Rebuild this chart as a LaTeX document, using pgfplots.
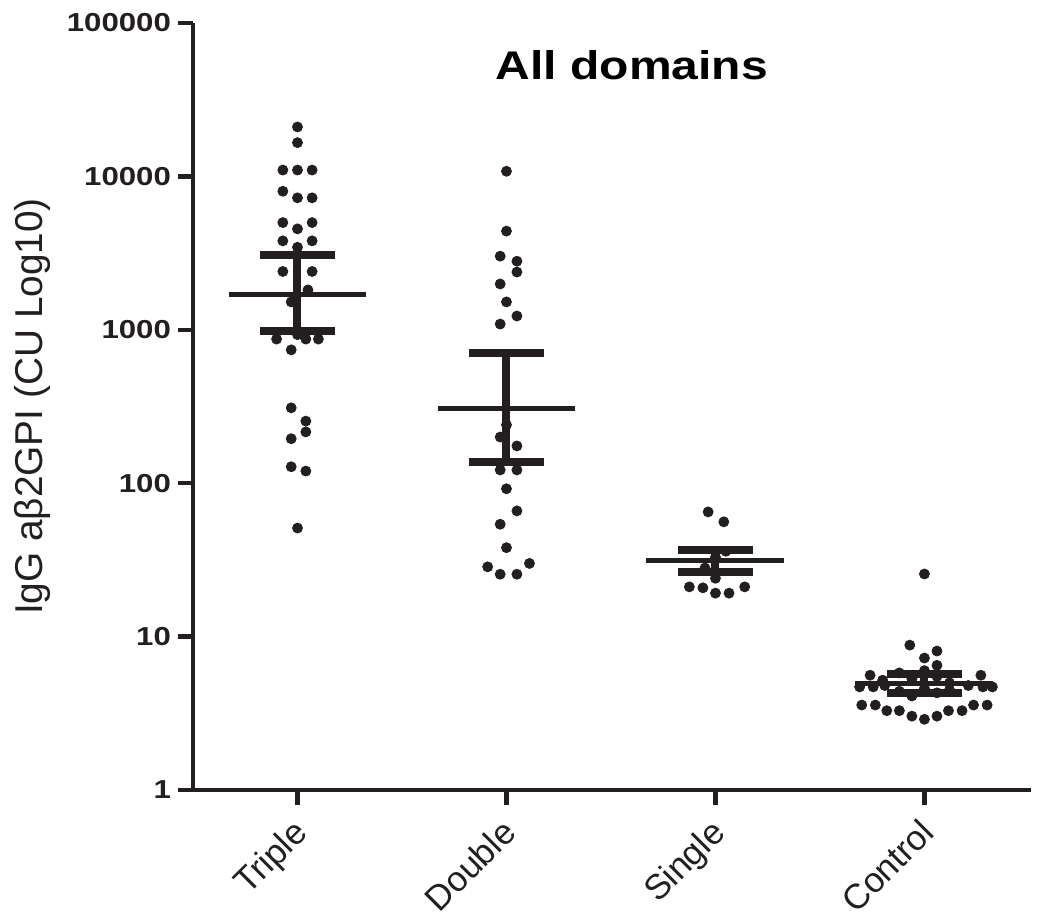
\documentclass[border=0pt]{standalone}
\usepackage{fontspec}
\setmainfont{Liberation Sans}
\newfontfamily\wide{Liberation Sans}[FakeStretch=1.2]
\usepackage{pgfplots}
\pgfplotsset{compat=1.18}
\definecolor{ink}{RGB}{35,31,32}

\begin{document}
\begin{tikzpicture}
\begin{axis}[
    at={(0,0)}, anchor=south west,
    scale only axis, width=419pt, height=383.5pt,
    ymode=log, log basis y=10,
    xmin=-0.5, xmax=3.51, ymin=1, ymax=100000,
    axis lines=left,
    axis line style={-, line width=2.25pt, ink},
    tick style={line width=2.25pt, ink},
    major tick length=7.5pt, minor tick length=0pt,
    tick align=outside,
    xtick={0,1,2,3},
    xticklabels={Triple,Double,Single,Control},
    ytick={1,10,100,1000,10000,100000},
    yticklabels={1,10,100,1000,10000,100000},
    yticklabel style={font=\wide\bfseries\fontsize{13}{13}\selectfont, text=ink},
    xticklabel style={font=\fontsize{17.5}{17.5}\selectfont, text=ink,
        rotate=45, anchor=north east, xshift=-3pt, yshift=1.5pt},
    ylabel={IgG aβ2GPI (CU Log10)},
    ylabel style={font=\fontsize{19.4}{19.4}\selectfont, text=ink,
        at={(axis description cs:-0.192,0.5)}, anchor=center},
    clip=false,
  ]
  % Triple
  \addplot[only marks, mark=*, mark size=2.5pt, ink] coordinates {
    (0,21000) (0,16600) (-0.07,11000) (0,11000) (0.07,11000)
    (-0.07,8000) (0,7250) (0.07,7250)
    (-0.07,5000) (0.07,5000) (0,4550)
    (-0.07,3800) (0.07,3800) (0,3450) (0,3100)
    (-0.07,2400) (0.07,2400) (0.05,1820) (-0.03,1520)
    (-0.10,870) (0.04,870) (0.10,870) (0,930) (-0.03,740)
    (-0.03,310) (0.04,254) (0.04,216) (-0.03,195)
    (-0.03,128) (0.04,120) (0,51)
  };
  % Double
  \addplot[only marks, mark=*, mark size=2.5pt, ink] coordinates {
    (1,10800) (1,4400) (0.97,3020) (1.05,2800) (1.05,2380)
    (0.97,1990) (1,1520) (1.05,1230) (0.97,1090)
    (1,240) (0.97,200) (1.05,175) (0.97,122) (1.05,122)
    (1,92) (1.05,66) (0.97,54) (1,38)
    (1.11,30) (0.91,28.5) (0.97,25.5) (1.05,25.5)
  };
  % Single
  \addplot[only marks, mark=*, mark size=2.5pt, ink] coordinates {
    (1.965,65) (2.04,56) (2,33) (1.95,28) (2.05,36) (2,24)
    (1.875,21.1) (1.94,20.8) (2,19.2) (2.065,19.2) (2.14,21.1)
  };
  % Control
  \addplot[only marks, mark=*, mark size=2.5pt, ink] coordinates {
    (3,25.6) (2.93,8.8) (3.06,8.05) (3,7.25) (3.06,6.5)
    (2.74,5.6) (2.8,5.2) (3.27,5.6)
    (2.69,4.7) (2.755,4.7) (2.81,4.8) (3.21,4.8) (3.28,4.7) (3.325,4.7)
    (2.88,5.8) (2.94,5.3) (3,6.0) (3.06,5.5) (3.12,5.0)
    (2.88,4.4) (2.94,4.1) (3,4.6) (3.06,4.3) (3.12,4.5)
    (2.70,3.58) (2.765,3.58) (3.235,3.58) (3.30,3.58)
    (2.82,3.29) (2.88,3.29) (3.115,3.29) (3.18,3.29)
    (2.94,3.03) (3.06,3.03) (3,2.89)
  };
  % means and 95% CI
  \addplot[ink, line width=4pt] coordinates {(0,982) (0,3073)};
  \addplot[ink, line width=4pt] coordinates {(-0.18,3073) (0.18,3073)};
  \addplot[ink, line width=4pt] coordinates {(-0.18,982) (0.18,982)};
  \addplot[ink, line width=2.5pt] coordinates {(-0.33,1711) (0.33,1711)};

  \addplot[ink, line width=4pt] coordinates {(1,137.5) (1,706)};
  \addplot[ink, line width=4pt] coordinates {(0.82,706) (1.18,706)};
  \addplot[ink, line width=4pt] coordinates {(0.82,137.5) (1.18,137.5)};
  \addplot[ink, line width=2.5pt] coordinates {(0.67,309) (1.33,309)};

  \addplot[ink, line width=4pt] coordinates {(2,26.3) (2,36.5)};
  \addplot[ink, line width=4pt] coordinates {(1.82,36.5) (2.18,36.5)};
  \addplot[ink, line width=4pt] coordinates {(1.82,26.3) (2.18,26.3)};
  \addplot[ink, line width=2.5pt] coordinates {(1.67,31.2) (2.33,31.2)};

  \addplot[ink, line width=4pt] coordinates {(3,4.29) (3,5.7)};
  \addplot[ink, line width=4pt] coordinates {(2.82,5.7) (3.18,5.7)};
  \addplot[ink, line width=4pt] coordinates {(2.82,4.29) (3.18,4.29)};
  \addplot[ink, line width=2.5pt] coordinates {(2.67,4.98) (3.33,4.98)};

  \node[font=\wide\bfseries\fontsize{20}{20}\selectfont, text=black]
    at (axis cs:1.6,53200) {All domains};
\end{axis}
\pgfresetboundingbox
\useasboundingbox (-96.5pt,-66.5pt) rectangle (422pt,395pt);
\end{tikzpicture}
\end{document}
